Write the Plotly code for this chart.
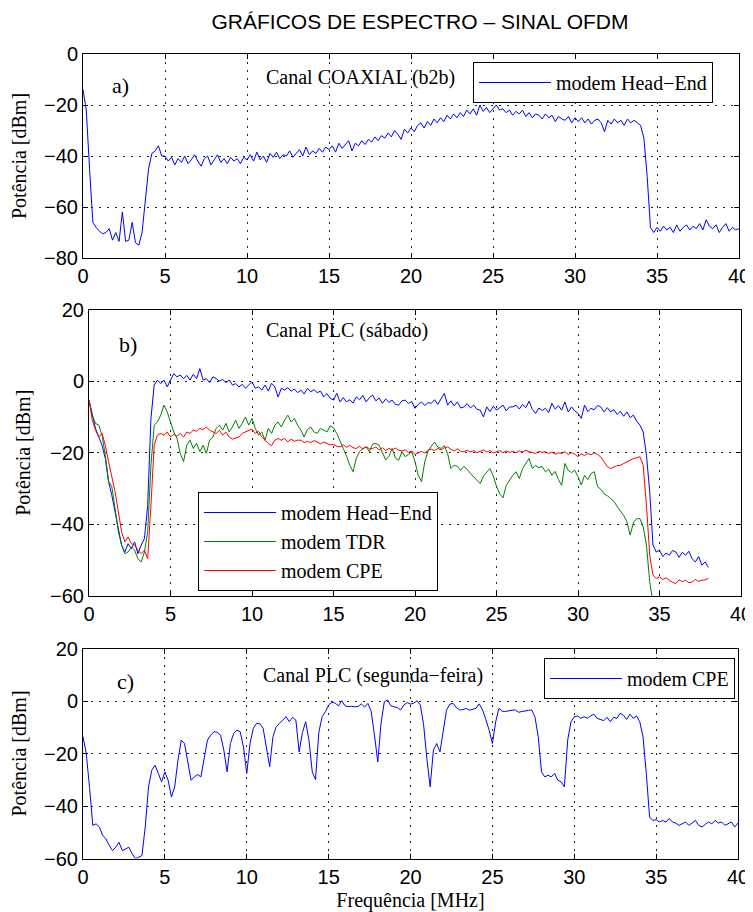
import numpy as np
import plotly.graph_objects as go

# ------------------------------
# dados (passo de 0.2 MHz a partir de 0)
# ------------------------------
passo = 0.2

# a) canal coaxial (b2b) - modem Head-End, 0 .. 40 MHz
coax_headend = (
    [-14, -22, -45, -66, -68, -69.5, -70.5, -70, -68.5, -73, -70, -73.5, -62, -73.5, -73, -66, -74, -75, -70, -56, -45, -39, -38, -36, -40, -40]
    + [-42, -40.5, -43.5, -41, -42.5, -40, -43, -41.5, -39.5, -42, -44, -41, -40, -43.5, -41.5, -39.5, -42.5, -41, -43, -40.5, -42, -41, -43, -40.5, -41.5]
    + [-39.5, -42, -38.5, -41.5, -40, -42.5, -39, -40.5, -38.5, -41, -39.5, -40, -38, -40.5, -39, -37.5, -40, -36.5, -39.5, -38, -39, -37, -38.5, -36.5, -37.5]
    + [-36, -38.5, -35, -37, -35.5, -34, -38, -35, -36, -34, -35.5, -33.5, -34.5, -32.5, -34, -32, -33, -31, -32.5, -30, -31.5, -33.5, -29.5, -31, -29]
    + [-30.5, -28, -27, -29, -26.5, -28, -25.5, -27, -25, -26.5, -24, -25.5, -23.5, -25, -23, -24.5, -22, -23.5, -21.5, -24, -20, -22.5, -21, -23, -21.5]
    + [-20, -22, -21.5, -23, -22, -24, -22.5, -23.5, -22, -24.5, -23, -25, -23.5, -24, -25.5, -23.5, -25, -24, -26.5, -24.5, -25.5, -26, -24.5, -27, -25]
    + [-26.5, -25, -27, -25.5, -27.5, -26, -25.5, -27, -30.5, -26, -27.5, -25.5, -27, -26, -28, -25.5, -27, -26, -27, -28, -33, -48, -68, -70, -68]
    + [-69.5, -67.5, -69, -68, -70, -67, -69.5, -68, -67, -69, -67.5, -68.5, -66.5, -69, -65, -67.5, -68.5, -67, -70, -68, -66.5, -69.5, -68, -69, -68.5]
)

# b) canal PLC (sábado), 0 .. 38 MHz
sab_headend = (
    [-5.3, -9.5, -13.2, -15.6, -17.9, -21.6, -28, -31.9, -36.5, -41, -45.8, -47.7, -45.4, -46.8, -44.9, -48.2, -45.8, -44, -34.7, -10.4, -1.1, 0.3, -0.7, 0.3, -1.6, 0.3]
    + [2.1, 1.2, 1.7, 0.7, 1.6, 0.3, 1.9, 0.7, 3.5, 0.3, 0.7, -0.4, 1.2, 0.7, 0, 0.5, -0.4, 0.3, -1.1, -0.7, -1.6, -0.9, -2, -1.1, -0.2]
    + [-2, -1.6, -2.5, -1.1, -2.8, -0.6, -1.6, -4.4, -2, -2.5, -1.8, -2.8, -2.2, -3.2, -2.5, -3.6, -2, -3, -2.4, -3.2, -2.8, -4.4, -3.5, -4.8, -5.3]
    + [-3.4, -5.8, -4.6, -5.8, -5.2, -6.1, -4.4, -5.2, -4, -5.8, -4.6, -3.9, -5.5, -4.7, -6.2, -5, -5.9, -5.3, -6.5, -6.7, -5.5, -5.3, -6.2, -5.7, -7.6]
    + [-6.5, -5.8, -6.8, -6, -6.2, -5.2, -6.5, -4.8, -3.4, -6.7, -5.5, -6.9, -5.8, -7.5, -7.2, -6.3, -7.5, -6.7, -7.9, -8.1, -10, -7.2, -8.5, -7, -8.1]
    + [-7.4, -6.7, -8.3, -7.2, -7.2, -6.7, -7.8, -6.5, -7.4, -5.6, -7.9, -9, -7.5, -8.2, -7.6, -8.8, -6.2, -7.8, -6.9, -8.1, -5.8, -8.6, -7.2, -8.3, -9]
    + [-10.4, -6.7, -8.5, -7.6, -8, -6.8, -7.2, -8.6, -7.4, -8.6, -8, -9.3, -8.4, -9.8, -8.6, -10.2, -9.5, -11.2, -12.3, -14.2, -20.7, -30.9, -45.8, -47.7, -47.2]
    + [-49, -48, -48.6, -47.3, -47.7, -49.2, -47.8, -48.6, -47.5, -49.6, -50.5, -49, -51.4, -50.5, -52]
)

sab_tdr = (
    [-5.3, -9.5, -11.8, -12.3, -15.1, -20.7, -28, -29.5, -35.6, -42, -45.8, -48.2, -47.7, -46.3, -47.2, -49.6, -50.5, -47.7, -42.1, -23.5, -12.3, -11.4, -9.5, -6.7, -8.6, -11.4]
    + [-14.2, -16, -20.2, -22.5, -17.9, -16.5, -18.8, -17.4, -19.7, -17.9, -20.2, -16.5, -15.6, -13.2, -12.3, -13.7, -11.8, -14.2, -12.8, -10.9, -13.2, -11.8, -10, -12.3, -10.4]
    + [-13.2, -15.1, -14.2, -16.5, -13.2, -14.6, -12.3, -11.4, -12.8, -10.9, -9.5, -11.4, -10.4, -12.3, -13.7, -15.6, -13.5, -12.8, -14.2, -14.6, -13.2, -13.7, -14.2, -12.5, -13]
    + [-14.6, -16.5, -18.8, -21, -23.5, -25.3, -21.5, -19.7, -18.8, -18.4, -19.7, -17.6, -17.4, -17.9, -20.2, -22, -21, -18.8, -21.5, -22.1, -19.7, -21.1, -20.5, -19.7, -22.5]
    + [-26.3, -28.1, -22.5, -19.5, -18.4, -17, -18.4, -18.8, -18, -20.2, -24.4, -23.5, -23.8, -24.9, -23.8, -24.6, -25.8, -26.8, -27.8, -28.6, -26.5, -25.5, -24.4, -26.5, -29.4]
    + [-31.5, -32.6, -29.1, -27.5, -26.3, -25.3, -27.2, -24.4, -23, -21.6, -24.4, -23.5, -24.2, -23.8, -25.3, -24.6, -26.3, -25.2, -27.5, -29.1, -23, -24.9, -25.5, -24.9, -26.7]
    + [-29, -26.3, -27.5, -25.8, -25.3, -29.5, -30.2, -31.5, -32, -32.8, -33.5, -35, -36.4, -37.5, -39.3, -43, -39.5, -38.4, -38.4, -40.7, -45.8, -56, -62]
)

sab_cpe = (
    [-5.3, -10.9, -13.7, -15.6, -14.6, -17.9, -22.5, -26.3, -30.9, -36.5, -42.1, -44.9, -43.5, -45.4, -45.8, -47.2, -48.2, -47.2, -49.6, -34.7, -17.9, -15.1, -14.6, -15.1, -14.2, -15.6]
    + [-14.9, -15.4, -14.6, -15.6, -14.2, -14.6, -13.7, -14, -13.2, -13.5, -12.8, -13.7, -14.2, -14.6, -13.7, -15.1, -14.2, -15.6, -16.2, -16, -15.6, -14.6, -14.2, -14, -13.4]
    + [-14.6, -14, -15.6, -16.5, -17.4, -18, -16.5, -16, -16.5, -16, -17, -16.2, -16.8, -16.5, -16.5, -17.2, -16.8, -17.2, -16.6, -17, -17.5, -17, -17.4, -17.8, -17.7]
    + [-18.2, -18.4, -17.8, -18.5, -17.9, -18.6, -18.8, -18.2, -19, -18.3, -18.9, -18.8, -18.4, -19.2, -18.6, -19.4, -18.8, -19.2, -18.7, -19.3, -19.5, -19.2, -19.9, -19.5, -20.5]
    + [-20, -19.6, -20.1, -19.3, -19, -19.4, -18.8, -19.2, -18.6, -18.4, -19, -19.5, -18.9, -19.6, -19.7, -19.3, -19.8, -19.4, -20, -19.7, -19.2, -19.8, -19.4, -20.1, -19.7]
    + [-19.4, -20, -19.5, -19.9, -19.6, -20, -19.5, -19.8, -19.3, -19.7, -20, -20.2, -19.6, -19.9, -19.7, -20.2, -19.8, -20.4, -20, -20.2, -19.7, -20.5, -20, -20.4, -21.1]
    + [-20.3, -20.8, -20.2, -20.6, -20, -20.5, -21.2, -22.5, -23.9, -24.4, -24, -23.6, -23.5, -23, -22.5, -22.2, -21.6, -21.4, -21.1, -23.5, -34.7, -48.6, -54.2, -55.1, -54.7]
    + [-55.4, -54.9, -55.6, -56.2, -56.5, -55.5, -56, -55.6, -56.3, -56.1, -55.4, -55.9, -55.6, -55.5, -55.1]
)

# c) canal PLC (segunda-feira) - modem CPE, 0 .. 40 MHz
seg_cpe = (
    [-13.6, -20, -33, -47.4, -46.8, -48, -51.2, -52.5, -55, -57, -55.7, -53.8, -57, -56.3, -55.7, -58.2, -60, -59.5, -58.9, -48, -32.7, -26.4, -24.5, -27.6, -30.8, -27]
    + [-30.2, -36.6, -32.7, -22.5, -14.9, -16.2, -23.8, -30.2, -28.9, -28, -28.9, -21.3, -14.9, -13, -11.7, -11.9, -13, -18.7, -27, -16.2, -12.4, -11.1, -11.7, -17.5, -27.6]
    + [-16.2, -10.4, -8.5, -8.7, -10.4, -18, -25, -13.6, -9.8, -8.5, -7.3, -6, -7.9, -6.2, -7.3, -19.4, -12, -7.9, -15, -27, -30, -12, -6, -4.1, -1.5]
    + [-0.5, -0.8, -1.9, 0.1, -1.8, -2.2, -2, -2.2, -2.1, -1.1, -2.3, -0.9, -4, -13, -23.2, -8.5, -0.3, 0.4, -1.8, -2.2, -2.5, -3.4, -1.5, -0.6, -1.2]
    + [-0.8, 0.1, -1.5, -9, -22, -32.7, -18.7, -16.2, -19.4, -11, -3.5, -1.2, -0.9, -2.5, -3.4, -3.3, -2.8, -3.5, -3, -2.8, -1.1, -3.4, -7, -11, -16.2]
    + [-8, -2.8, -3.9, -4, -3.7, -3.5, -3.4, -4.3, -4, -3.7, -3.6, -3.4, -6, -13.6, -27, -28.9, -28.3, -28.9, -27.6, -30.2, -30.8, -32.7, -14.9, -7.9, -6]
    + [-5.7, -6.6, -6, -6.6, -5.7, -5, -6.6, -7, -7.5, -6.2, -7.9, -6.2, -6.6, -4.7, -5.4, -7, -5, -6.6, -5.7, -7.9, -13.6, -27.6, -44.2, -45.5, -45.2]
    + [-46.1, -45.5, -46.1, -44.8, -46.1, -46.5, -47.4, -46.8, -46.1, -47.4, -46.5, -45.5, -47.4, -48, -47, -46.1, -46.8, -45.5, -46.5, -46.1, -47.4, -46.8, -46.1, -48, -46.5]
)


def freq(valores):
    return np.round(np.arange(len(valores)) * passo, 1)


# a página html tem margem de 8 px no body: a figura começa em (8, 8)
W, H, OFF = 745, 904, 8


def px_x(px):
    return (px - OFF) / W


def px_y(py):
    return 1 - (py - OFF) / H


SANS = "Liberation Sans, Arial, sans-serif"
SERIF = "Liberation Serif, Times New Roman, serif"
AZUL, VERDE, VERMELHO = "#0000ff", "#008000", "#ff0000"

# ------------------------------
# traços
# ------------------------------
fig = go.Figure()
fig.add_trace(go.Scatter(x=freq(coax_headend), y=coax_headend, mode="lines", name="modem Head−End",
                         line=dict(color=AZUL, width=1), xaxis="x", yaxis="y", legend="legend"))
fig.add_trace(go.Scatter(x=freq(sab_headend), y=sab_headend, mode="lines", name="modem Head−End",
                         line=dict(color=AZUL, width=1), xaxis="x2", yaxis="y2", legend="legend2", legendgroup="he"))
fig.add_trace(go.Scatter(x=freq(sab_tdr), y=sab_tdr, mode="lines", name="modem TDR",
                         line=dict(color=VERDE, width=1), xaxis="x2", yaxis="y2", legend="legend2", legendgroup="tdr"))
fig.add_trace(go.Scatter(x=freq(sab_cpe), y=sab_cpe, mode="lines", name="modem CPE",
                         line=dict(color=VERMELHO, width=1), xaxis="x2", yaxis="y2", legend="legend2", legendgroup="cpe"))
fig.add_trace(go.Scatter(x=freq(seg_cpe), y=seg_cpe, mode="lines", name="modem CPE",
                         line=dict(color=AZUL, width=1), xaxis="x3", yaxis="y3", legend="legend3"))

# ------------------------------
# eixos e layout (estilo MATLAB)
# ------------------------------
eixo = dict(showline=True, linecolor="black", linewidth=1, mirror="ticks",
            ticks="inside", ticklen=5, tickcolor="black",
            showgrid=True, gridcolor="#222", gridwidth=1, griddash="2px,6px",
            zeroline=False, automargin=False,
            tickfont=dict(family=SANS, size=20, color="black"))
titulo_y = dict(text="Potência [dBm]", font=dict(family=SERIF, size=20, color="black"), standoff=14)
caixa = dict(bordercolor="black", borderwidth=1, bgcolor="white",
             font=dict(family=SERIF, size=20, color="black"), itemwidth=72)

fig.update_layout(
    width=W, height=H, template="none",
    margin=dict(l=0, r=0, t=0, b=0),
    paper_bgcolor="white", plot_bgcolor="white",
    title=dict(text="GRÁFICOS DE ESPECTRO – SINAL OFDM", x=px_x(420), xanchor="center",
               y=px_y(22), yanchor="middle", font=dict(family=SANS, size=21, color="black")),
    xaxis=dict(eixo, domain=[px_x(83), px_x(739)], range=[0, 40], dtick=5, anchor="y"),
    yaxis=dict(eixo, domain=[px_y(258), px_y(54)], range=[-80, 0], dtick=20, anchor="x", title=titulo_y),
    xaxis2=dict(eixo, domain=[px_x(89), px_x(741)], range=[0, 40], dtick=5, anchor="y2"),
    yaxis2=dict(eixo, domain=[px_y(596), px_y(309.5)], range=[-60, 20], dtick=20, anchor="x2", title=titulo_y),
    xaxis3=dict(eixo, domain=[px_x(83), px_x(738)], range=[0, 40], dtick=5, anchor="y3",
                title=dict(text="Frequência [MHz]", font=dict(family=SERIF, size=20, color="black"))),
    yaxis3=dict(eixo, domain=[px_y(858.5), px_y(648.5)], range=[-60, 20], dtick=20, anchor="x3", title=titulo_y),
    legend=dict(caixa, x=px_x(713), xanchor="right", y=px_y(62), yanchor="top"),
    legend2=dict(caixa, x=px_x(198), xanchor="left", y=px_y(492), yanchor="top", tracegroupgap=0),
    legend3=dict(caixa, x=px_x(735), xanchor="right", y=px_y(658), yanchor="top"),
    showlegend=True,
)

rotulos = [
    ("x", "y", 2.26, -12.5, "a)", 22),
    ("x", "y", 16.9, -9.4, "Canal COAXIAL (b2b)", 20),
    ("x2", "y2", 2.4, 10.3, "b)", 22),
    ("x2", "y2", 15.8, 14, "Canal PLC (sábado)", 20),
    ("x3", "y3", 2.6, 7.4, "c)", 22),
    ("x3", "y3", 17.7, 9.9, "Canal PLC (segunda−feira)", 20),
]
for xr, yr, xv, yv, txt, tam in rotulos:
    fig.add_annotation(x=xv, y=yv, xref=xr, yref=yr, text=txt, showarrow=False,
                       font=dict(family=SERIF, size=tam, color="black"))

fig.write_html("out.html")
